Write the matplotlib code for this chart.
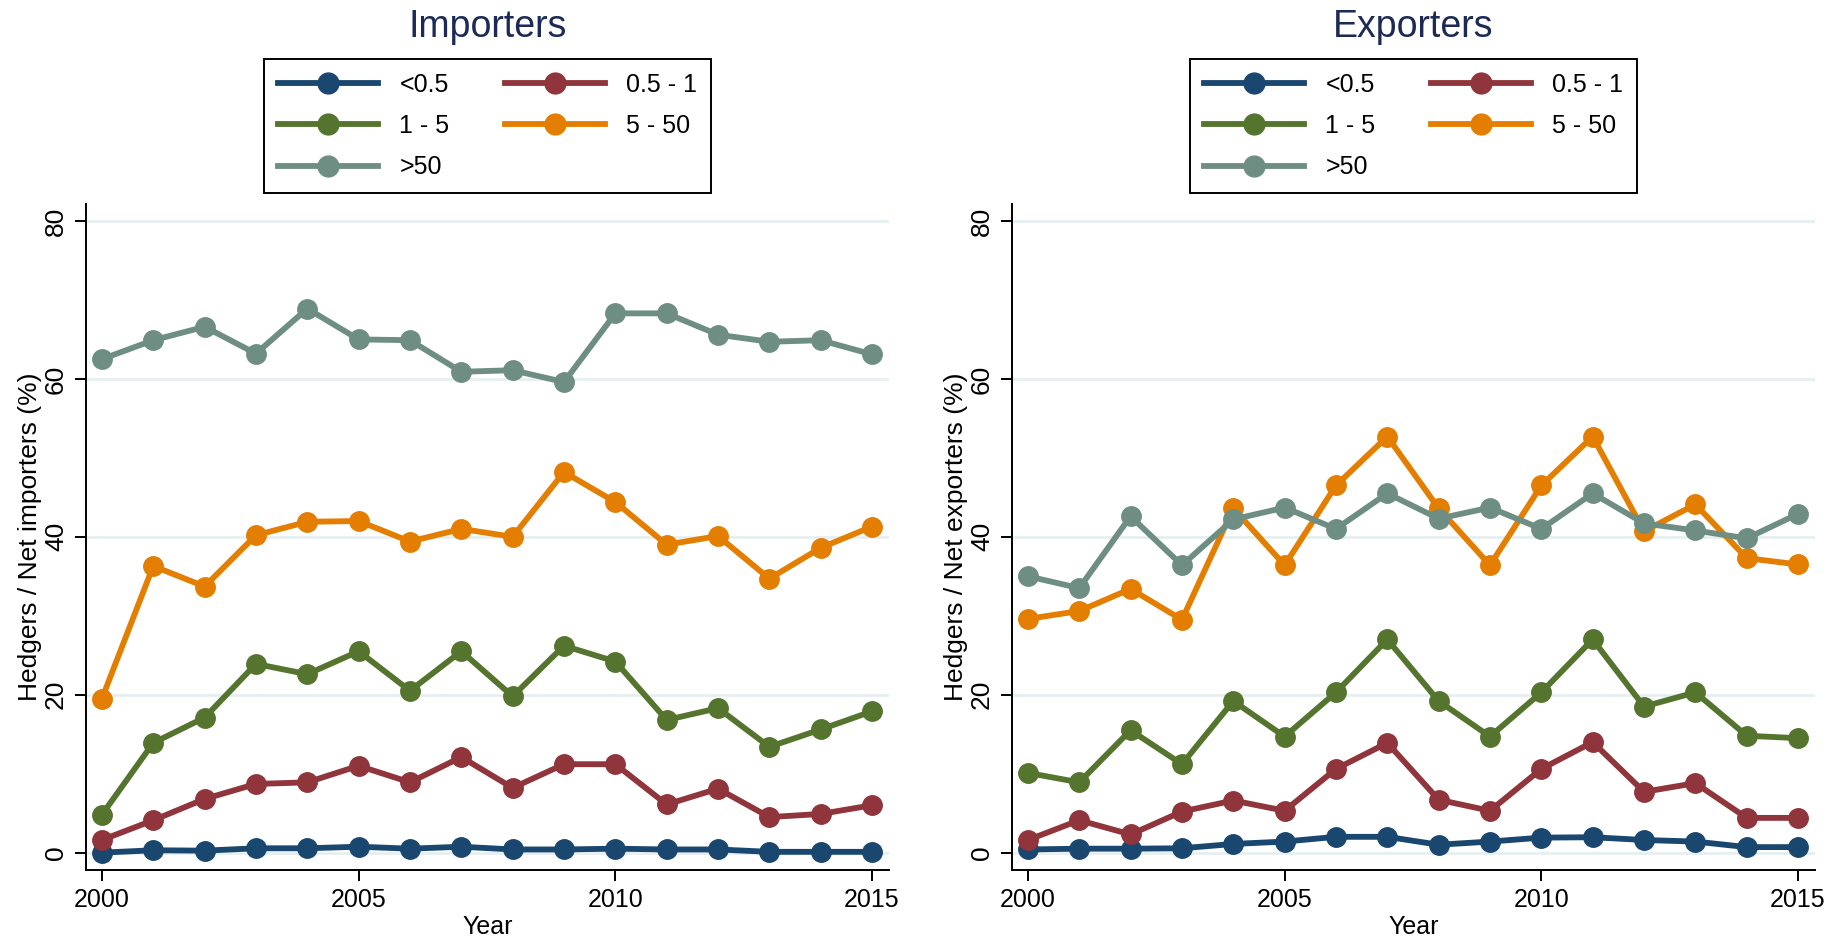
import matplotlib.pyplot as plt
from matplotlib.lines import Line2D
import numpy as np

plt.rcParams['font.family'] = ['Liberation Sans', 'DejaVu Sans']

years = np.arange(2000, 2016)
groups = ['<0.5', '0.5 - 1', '1 - 5', '5 - 50', '>50']
colors = ['#1a476f', '#90353b', '#55752f', '#e37e00', '#6e8e84']

# share of hedgers among net importers (%), by size group
imp_lt05 = [0.0, 0.3, 0.25, 0.55, 0.55, 0.75, 0.5, 0.75, 0.4, 0.4, 0.5, 0.4, 0.4, 0.1, 0.1, 0.1]
imp_05_1 = [1.6, 4.1, 6.8, 8.7, 8.9, 11.0, 8.9, 12.1, 8.2, 11.2, 11.2, 6.1, 8.1, 4.5, 4.9, 6.0]
imp_1_5 = [4.8, 13.9, 17.1, 23.9, 22.6, 25.5, 20.5, 25.5, 19.8, 26.2, 24.2, 16.8, 18.3, 13.4, 15.6, 17.9]
imp_5_50 = [19.5, 36.3, 33.7, 40.2, 41.9, 42.0, 39.4, 41.0, 40.0, 48.2, 44.4, 39.0, 40.1, 34.7, 38.6, 41.3]
imp_gt50 = [62.5, 64.9, 66.6, 63.2, 68.9, 65.0, 64.9, 60.9, 61.1, 59.6, 68.3, 68.3, 65.6, 64.7, 64.9, 63.1]

# share of hedgers among net exporters (%), by size group
exp_lt05 = [0.4, 0.5, 0.5, 0.55, 1.1, 1.4, 2.0, 2.0, 1.0, 1.4, 1.9, 1.95, 1.6, 1.4, 0.7, 0.7]
exp_05_1 = [1.6, 4.1, 2.3, 5.2, 6.6, 5.3, 10.6, 13.9, 6.7, 5.3, 10.6, 14.0, 7.7, 8.8, 4.4, 4.4]
exp_1_5 = [10.1, 8.9, 15.5, 11.2, 19.2, 14.7, 20.3, 27.0, 19.2, 14.7, 20.3, 27.0, 18.5, 20.3, 14.8, 14.5]
exp_5_50 = [29.6, 30.6, 33.4, 29.5, 43.6, 36.4, 46.5, 52.7, 43.6, 36.4, 46.5, 52.7, 40.7, 44.1, 37.3, 36.5]
exp_gt50 = [35.0, 33.5, 42.6, 36.4, 42.2, 43.7, 41.0, 45.5, 42.3, 43.7, 41.0, 45.5, 41.7, 40.8, 39.8, 42.9]

panels = [
    ('Importers', 'Hedgers / Net importers (%)', [imp_lt05, imp_05_1, imp_1_5, imp_5_50, imp_gt50]),
    ('Exporters', 'Hedgers / Net exporters (%)', [exp_lt05, exp_05_1, exp_1_5, exp_5_50, exp_gt50]),
]

W, H = 1836, 944
fig = plt.figure(figsize=(W / 100, H / 100), dpi=100)

ax_lefts = [86, 1012]
ax_w = 803
ax_bottom, ax_top = 870, 204

for (title, ylab, series), xl in zip(panels, ax_lefts):
    ax = fig.add_axes([xl / W, 1 - ax_bottom / H, ax_w / W, (ax_bottom - ax_top) / H])
    for vals, c in zip(series, colors):
        ax.plot(years, vals, color=c, lw=4.2, marker='o', ms=14, mec=c, mfc=c,
                solid_joinstyle='round', clip_on=False)

    ax.set_xlim(1999.69, 2015.33)
    ax.set_ylim(-2.2, 82.15)
    ax.set_xticks([2000, 2005, 2010, 2015])
    ax.set_yticks([0, 20, 40, 60, 80])
    ax.grid(axis='y', color='#e6eff0', lw=2)
    ax.set_axisbelow(True)
    for s in ['top', 'right']:
        ax.spines[s].set_visible(False)
    for s in ['left', 'bottom']:
        ax.spines[s].set_linewidth(1.4)
    ax.tick_params(length=8, width=1.4, labelsize=18, pad=5)
    plt.setp(ax.get_yticklabels(), rotation=90, va='center', ha='right', fontsize=19)

    ax.set_xlabel('Year', fontsize=18, labelpad=2)
    ax.set_ylabel(ylab, fontsize=19)
    ax.yaxis.set_label_coords(-0.055, (ax_bottom - 537) / (ax_bottom - ax_top))

    cx = (xl + ax_w / 2) / W
    fig.text(cx, 1 - 27 / H, title, ha='center', va='center', fontsize=27, color='#1c2a55')

    handles = [Line2D([], [], color=c, lw=4.2, marker='o', ms=15, mec=c, mfc=c) for c in colors]
    order = [0, 2, 4, 1, 3]
    leg = fig.legend([handles[i] for i in order], [groups[i] for i in order],
                     loc='upper center', bbox_to_anchor=(cx, 1 - 59 / H), ncol=2,
                     fontsize=18, handlelength=4.0, handletextpad=0.85, columnspacing=2.2,
                     labelspacing=0.69, borderpad=0.55, borderaxespad=0, fancybox=False,
                     edgecolor='black', framealpha=1)
    leg.get_frame().set_linewidth(1.4)

fig.savefig('out.png', dpi=100)
